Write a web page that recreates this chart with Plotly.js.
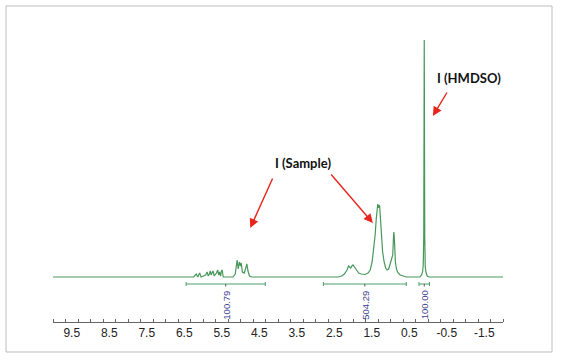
<!DOCTYPE html>
<html>
<head>
<meta charset="utf-8">
<script src="https://cdn.plot.ly/plotly-3.0.1.min.js"></script>
<style>html,body{margin:0;padding:0;background:#fff;}#chart{width:561px;height:363px;}</style>
</head>
<body>
<div id="chart"></div>
<script>
// Spectrum trace (chemical shift in ppm, intensity in arbitrary units)
const shiftPpm = [10.0, 6.25, 6.18, 6.16, 6.14, 6.09, 6.07, 6.05, 5.93, 5.89, 5.86, 5.83, 5.81, 5.78, 5.75, 5.73, 5.70, 5.64, 5.61, 5.58, 5.56, 5.53, 5.51, 5.49, 5.46, 5.40, 5.20, 5.14, 5.11, 5.09, 5.06, 5.03, 5.00, 4.98, 4.95, 4.90, 4.86, 4.83, 4.80, 4.76, 4.70,
  2.40, 2.30, 2.23, 2.16, 2.12, 2.09, 2.06, 2.03, 2.00, 1.96, 1.91, 1.85, 1.78, 1.68, 1.60, 1.54, 1.49, 1.45, 1.41, 1.38, 1.36, 1.34, 1.32, 1.31, 1.29, 1.28, 1.26, 1.24, 1.21, 1.17, 1.13, 1.09, 1.05, 1.01, 0.97, 0.94, 0.92, 0.91, 0.89, 0.87, 0.84, 0.80, 0.74, 0.66, 0.58,
  0.22, 0.17, 0.145, 0.127, 0.113, 0.10, 0.087, 0.073, 0.05, 0.02, -0.03, -2.0];
const intensity = [0, 0, 3, 1, 0, 4, 1, 0, 2, 5, 1, 3, 6, 2, 5, 6, 1, 4, 7, 2, 5, 1, 6, 7, 0, 0, 0, 3, 9, 17, 8, 15, 11, 14, 5, 4, 9, 13, 6, 1, 0,
  0, 1, 3, 7, 11, 10, 9, 11, 12, 10, 7, 4, 3, 2.5, 4, 7, 15, 27, 42, 58, 68, 73, 69, 72, 71, 66, 55, 38, 25, 15, 9, 7, 8, 13, 17, 22, 40, 45, 33, 15, 8, 4, 2, 1, 0,
  0, 2, 5, 12, 40, 237, 40, 10, 4, 1, 0, 0];

// Integral regions
const integralStart = [6.45, 2.79, 0.24];
const integralEnd = [4.34, 0.58, -0.04];
const integralValue = ["100.79", "504.29", "100.00"];

// Axis tick labels
const tickValues = [9.5, 8.5, 7.5, 6.5, 5.5, 4.5, 3.5, 2.5, 1.5, 0.5, -0.5, -1.5];
const tickLabels = ["9.5", "8.5", "7.5", "6.5", "5.5", "4.5", "3.5", "2.5", "1.5", "0.5", "-0.5", "-1.5"];

// Callout labels
const calloutText = ["I (Sample)", "I (HMDSO)"];
const calloutPpm = [3.34, -1.08];
const calloutY = [114, 199];
// Arrow tips (ppm, intensity) and tails (pixel offsets)
const arrowTipPpm = [4.74, 1.47, -0.13];
const arrowTipY = [49, 54, 161];
const arrowTailDx = [23, -43, 15];
const arrowTailDy = [-51, -50, -25];

const green = '#48975a';
const intColor = '#4e9f6a';
const intY = -7;

const shapes = [{
  type: 'rect', xref: 'paper', yref: 'paper',
  x0: -0.1044, x1: 1.1089, y0: -0.1027, y1: 1.0822,
  line: {color: '#bdbdbd', width: 1}, fillcolor: 'rgba(0,0,0,0)', layer: 'below'
}];
const annotations = [];
for (let i = 0; i < integralStart.length; i++) {
  const s = integralStart[i], e = integralEnd[i], c = (s + e) / 2;
  shapes.push({type: 'line', xref: 'x', yref: 'y', x0: s, x1: e, y0: intY, y1: intY, line: {color: intColor, width: 1}});
  shapes.push({type: 'line', xref: 'x', yref: 'y', x0: s, x1: s, y0: intY + 2, y1: intY - 2, line: {color: intColor, width: 1}});
  shapes.push({type: 'line', xref: 'x', yref: 'y', x0: e, x1: e, y0: intY + 2, y1: intY - 2, line: {color: intColor, width: 1}});
  shapes.push({type: 'line', xref: 'x', yref: 'y', x0: c, x1: c, y0: intY, y1: intY - 2.5, line: {color: '#555', width: 1}});
  annotations.push({
    x: c, y: -28, xref: 'x', yref: 'y', text: integralValue[i], showarrow: false, textangle: -90,
    font: {family: 'Liberation Sans, Arial, sans-serif', size: 9.5, color: '#3c3f8f'}
  });
}
for (let i = 0; i < calloutText.length; i++) {
  annotations.push({
    x: calloutPpm[i], y: calloutY[i], xref: 'x', yref: 'y', text: '<b>' + calloutText[i] + '</b>', showarrow: false,
    font: {family: 'Lato, Liberation Sans, sans-serif', size: 13, color: '#111'}
  });
}
for (let i = 0; i < arrowTipPpm.length; i++) {
  annotations.push({
    x: arrowTipPpm[i], y: arrowTipY[i], xref: 'x', yref: 'y', text: '', showarrow: true,
    ax: arrowTailDx[i], ay: arrowTailDy[i], arrowhead: 2, arrowsize: 1.3, arrowwidth: 1.4, arrowcolor: '#e8251c', standoff: 0
  });
}

const data = [{
  x: shiftPpm, y: intensity, type: 'scatter', mode: 'lines',
  line: {color: green, width: 1.2}, hoverinfo: 'skip'
}];

const layout = {
  width: 561, height: 363,
  margin: {l: 53, r: 58, t: 30, b: 41, pad: 0},
  paper_bgcolor: '#fff', plot_bgcolor: '#fff', showlegend: false,
  xaxis: {
    range: [10, -2], showline: true, linecolor: '#666', linewidth: 1, showgrid: false, zeroline: false,
    tickmode: 'array', tickvals: tickValues, ticktext: tickLabels, ticks: '',
    tickfont: {family: 'Liberation Sans, Arial, sans-serif', size: 12, color: '#222'},
    minor: {tickmode: 'linear', tick0: 10, dtick: 1 / 3, ticks: 'inside', ticklen: 3, tickcolor: '#666', tickwidth: 1, showgrid: false}
  },
  yaxis: {range: [-45, 247], visible: false, fixedrange: true},
  shapes: shapes,
  annotations: annotations
};

Plotly.newPlot('chart', data, layout, {displayModeBar: false, staticPlot: true});
</script>
</body>
</html>
